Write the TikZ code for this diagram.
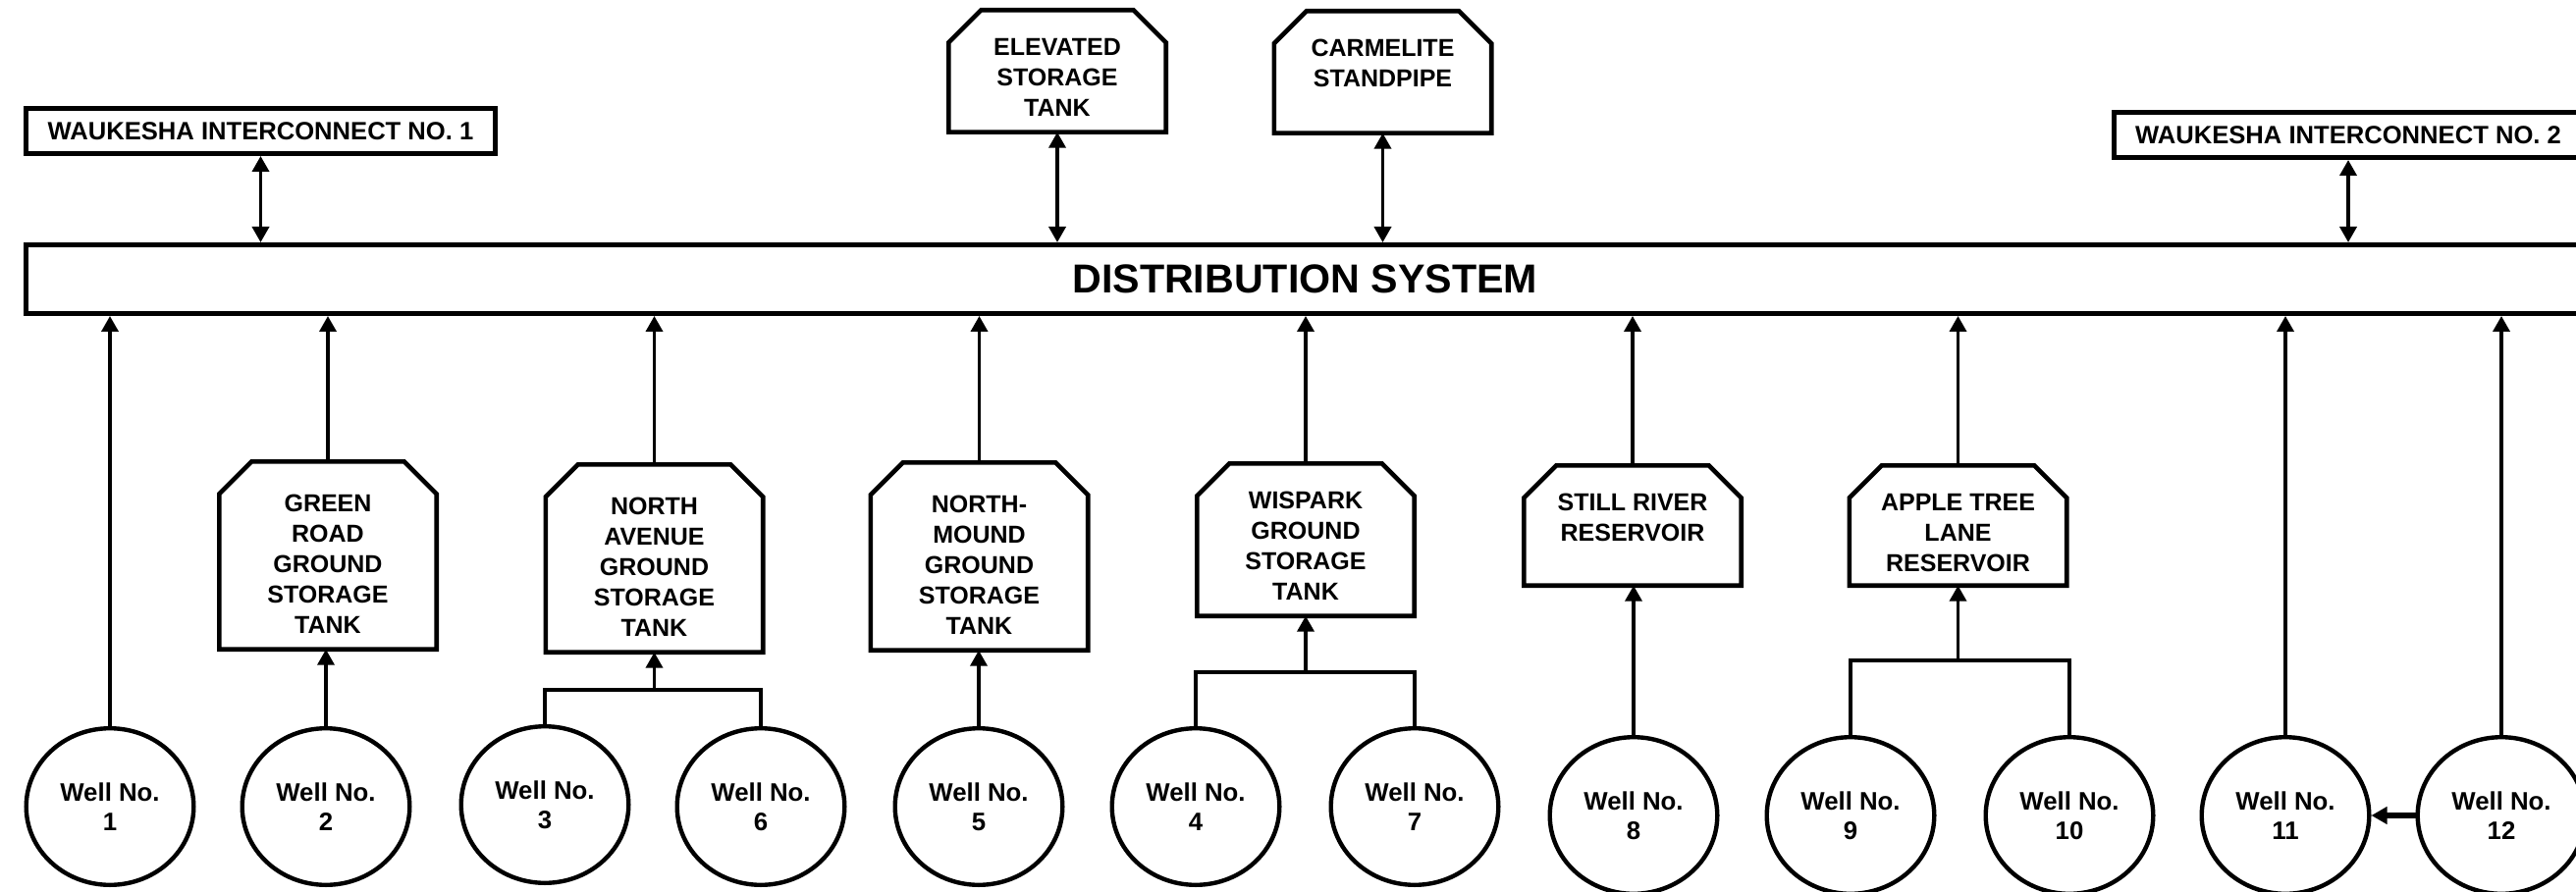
\documentclass[tikz,border=0pt]{standalone}
\usepackage{fontspec}
\setmainfont{Liberation Sans}
\usetikzlibrary{shapes.geometric,arrows.meta}

\tikzset{
  box/.style={draw, line width=2.5pt, rectangle, minimum width=239pt, minimum height=23pt,
    inner sep=0pt, font=\fontsize{12.8}{15.5}\selectfont\bfseries},
  tank/.style={rectangle, outer sep=0pt, inner sep=0pt, minimum width=110.7pt, anchor=north},
  tankline/.style={draw, line width=2.3pt, line join=miter},
  tanktext/.style={anchor=north, yshift=-#1, inner sep=0pt, align=center,
    font=\fontsize{12.5}{15.5}\selectfont\bfseries},
  tanktext/.default=14.35pt,
  well/.style={draw, ellipse, line width=2.2pt, minimum width=85.3pt, minimum height=79.8pt,
    inner sep=0pt, align=center, font=\fontsize{12.9}{15}\selectfont\bfseries},
  pipe/.style={line width=1.8pt},
}

\begin{document}
\begin{tikzpicture}[x=0.5pt, y=-0.5pt, >={Triangle[length=8pt,width=8.5pt]}]
  \useasboundingbox (0,0) rectangle (2624,909);
  \clip (0,0) rectangle (2624,909);

  % distribution system
  \node[draw, line width=2.5pt, minimum width=1302.75pt, minimum height=35pt, inner sep=0pt,
    font=\fontsize{20.6}{24}\selectfont\bfseries] (dist) at (1329.25,284.5) {DISTRIBUTION SYSTEM};

  % top
  \node[box] (wauk1) at (265.5,133.5) {WAUKESHA INTERCONNECT NO. 1};
  \node[box] (wauk2) at (2392,137.5) {WAUKESHA INTERCONNECT NO. 2};
  \node[tank, minimum height=62.2pt, label={[tanktext]north:ELEVATED\\STORAGE\\TANK}] (elev) at (1077,10.3) {};
  \node[tank, minimum height=62.2pt, label={[tanktext]north:CARMELITE\\STANDPIPE}] (carm) at (1408.5,11.3) {};

  % tanks
  \node[tank, minimum height=95.7pt, label={[tanktext=16.85pt]north:GREEN\\ROAD\\GROUND\\STORAGE\\TANK}] (green) at (334,470.3) {};
  \node[tank, minimum height=95.7pt, label={[tanktext=16.85pt]north:NORTH\\AVENUE\\GROUND\\STORAGE\\TANK}] (north) at (666.5,473.3) {};
  \node[tank, minimum height=95.7pt, label={[tanktext=16.85pt]north:NORTH-\\MOUND\\GROUND\\STORAGE\\TANK}] (mound) at (997.5,471.3) {};
  \node[tank, minimum height=77.7pt, label={[tanktext]north:WISPARK\\GROUND\\STORAGE\\TANK}] (wisp) at (1330,472.3) {};
  \node[tank, minimum height=61.2pt, label={[tanktext]north:STILL RIVER\\RESERVOIR}] (still) at (1663,474.3) {};
  \node[tank, minimum height=61.2pt, label={[tanktext]north:APPLE TREE\\LANE\\RESERVOIR}] (apple) at (1994.5,474.3) {};
  \foreach \t in {elev,carm,green,north,mound,wisp,still,apple}
    \draw[tankline] (\t.south west) -- ([yshift=-16.5pt]\t.north west) -- ([xshift=16.5pt]\t.north west)
      -- ([xshift=-16.5pt]\t.north east) -- ([yshift=-16.5pt]\t.north east) -- (\t.south east) -- cycle;

  % wells
  \node[well] (w1) at (112,822) {Well No.\\1};
  \node[well] (w2) at (332,822) {Well No.\\2};
  \node[well] (w3) at (555,820) {Well No.\\3};
  \node[well] (w6) at (775,822) {Well No.\\6};
  \node[well] (w5) at (997,822) {Well No.\\5};
  \node[well] (w4) at (1218,822) {Well No.\\4};
  \node[well] (w7) at (1441,822) {Well No.\\7};
  \node[well] (w8) at (1664,831) {Well No.\\8};
  \node[well] (w9) at (1885,831) {Well No.\\9};
  \node[well] (w10) at (2108,831) {Well No.\\10};
  \node[well] (w11) at (2328,831) {Well No.\\11};
  \node[well] (w12) at (2548,831) {Well No.\\12};

  % connections to the distribution system
  \draw[pipe,<->] (wauk1.south) -- (wauk1.south |- dist.north);
  \draw[pipe,<->] (elev.south) -- (elev.south |- dist.north);
  \draw[pipe,<->] (carm.south) -- (carm.south |- dist.north);
  \draw[pipe,<->] (wauk2.south) -- (wauk2.south |- dist.north);
  \draw[pipe,->] (w1.north) -- (w1.north |- dist.south);
  \draw[pipe,->] (green.north) -- (green.north |- dist.south);
  \draw[pipe,->] (north.north) -- (north.north |- dist.south);
  \draw[pipe,->] (mound.north) -- (mound.north |- dist.south);
  \draw[pipe,->] (wisp.north) -- (wisp.north |- dist.south);
  \draw[pipe,->] (still.north) -- (still.north |- dist.south);
  \draw[pipe,->] (apple.north) -- (apple.north |- dist.south);
  \draw[pipe,->] (w11.north) -- (w11.north |- dist.south);
  \draw[pipe,->] (w12.north) -- (w12.north |- dist.south);

  % wells to tanks
  \draw[pipe,->] (w2.north) -- (w2.north |- green.south);
  \draw[pipe,->] (w5.north) -- (w5.north |- mound.south);
  \draw[pipe,->] (w8.north) -- (w8.north |- still.south);
  \coordinate (nsplit) at (666.5,703);
  \draw[pipe] (w3.north) |- (nsplit) -| (w6.north);
  \draw[pipe,->] (nsplit) -- (north.south);
  \coordinate (wsplit) at (1330,685);
  \draw[pipe] (w4.north) |- (wsplit) -| (w7.north);
  \draw[pipe,->] (wsplit) -- (wisp.south);
  \coordinate (asplit) at (1994.5,673);
  \draw[pipe] (w9.north) |- (asplit) -| (w10.north);
  \draw[pipe,->] (asplit) -- (apple.south);
  \draw[pipe,->,line width=2.6pt] (w12.west) -- (w11.east);
\end{tikzpicture}
\end{document}
